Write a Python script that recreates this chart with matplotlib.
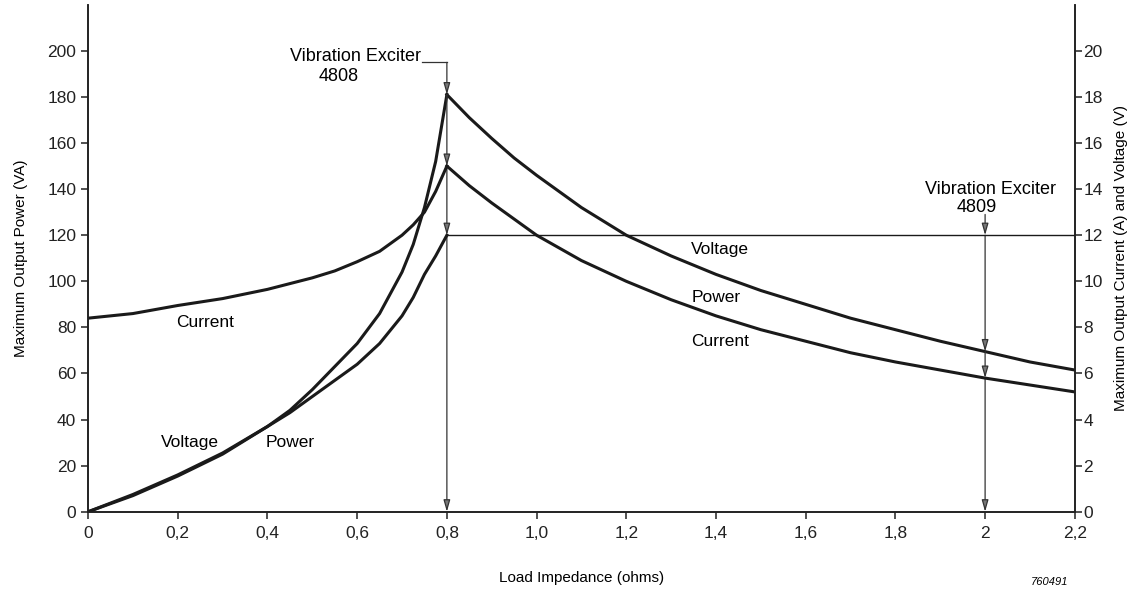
import numpy as np
import matplotlib.pyplot as plt

plt.rcParams['font.family'] = ['Liberation Sans', 'DejaVu Sans']

# load impedance (ohms)
x_left = [0, 0.1, 0.2, 0.3, 0.4, 0.45, 0.5, 0.55, 0.6, 0.65, 0.7, 0.725, 0.75, 0.775, 0.8]
x_right = [0.8, 0.85, 0.9, 0.95, 1.0, 1.1, 1.2, 1.3, 1.4, 1.5, 1.6, 1.7, 1.8, 1.9, 2.0, 2.1, 2.2]

# power (VA), current (A), voltage (V)
power_left = [0, 7, 15.5, 25, 37, 44, 53, 63, 73, 86, 104, 116, 132, 152, 181]
voltage_left = [0, 0.75, 1.6, 2.55, 3.7, 4.3, 5.0, 5.7, 6.4, 7.3, 8.5, 9.3, 10.3, 11.1, 12.0]
current_left = [8.4, 8.6, 8.95, 9.25, 9.65, 9.9, 10.15, 10.45, 10.85, 11.3, 12.0, 12.45, 13.0, 13.9, 15.0]

power_right = [181, 171, 162, 153.5, 146, 132, 120, 111, 103, 96, 90, 84, 79, 74, 69.5, 65, 61.5]
current_right = [15.0, 14.15, 13.4, 12.7, 12.0, 10.9, 10.0, 9.2, 8.5, 7.9, 7.4, 6.9, 6.5, 6.15, 5.8, 5.5, 5.2]
voltage_right = [12.0, 12.0]
voltage_right_x = [0.8, 2.2]

xticks = [0, 0.2, 0.4, 0.6, 0.8, 1.0, 1.2, 1.4, 1.6, 1.8, 2.0, 2.2]
xtick_labels = ['0', '0,2', '0,4', '0,6', '0,8', '1,0', '1,2', '1,4', '1,6', '1,8', '2', '2,2']

fig = plt.figure(figsize=(11.29, 5.93), dpi=100)
ax = fig.add_axes([0.078, 0.137, 0.874, 0.855])
ax2 = ax.twinx()

lw = 2.2
ax.plot(x_left, power_left, color='#1a1a1a', lw=lw)
ax.plot(x_right, power_right, color='#1a1a1a', lw=lw)
ax2.plot(x_left, voltage_left, color='#1a1a1a', lw=lw)
ax2.plot(x_left, current_left, color='#1a1a1a', lw=lw)
ax2.plot(x_right, current_right, color='#1a1a1a', lw=lw)
ax2.plot(voltage_right_x, voltage_right, color='#1a1a1a', lw=1.0)

ax.set_xlim(0, 2.2)
ax.set_ylim(0, 220)
ax2.set_ylim(0, 22)

ax.set_xticks(xticks)
ax.set_xticklabels(xtick_labels)
ax.set_yticks(np.arange(0, 201, 20))
ax2.set_yticks(np.arange(0, 21, 2))

for a in (ax, ax2):
    a.spines['top'].set_visible(False)
    for s in a.spines.values():
        s.set_linewidth(1.2)
        s.set_color('#222222')
    a.tick_params(direction='out', length=5, width=1.1, labelsize=12.5, colors='#222222')
ax.tick_params(axis='x', pad=5)
ax2.tick_params(axis='y', pad=1)

ax.set_xlabel('Load Impedance (ohms)', fontsize=11, labelpad=22)
ax.set_ylabel('Maximum Output Power (VA)', fontsize=11, labelpad=14)
ax2.set_ylabel('Maximum Output Current (A) and Voltage (V)', fontsize=11, labelpad=8)


def arrow(a, x, y0, y1):
    a.annotate('', xy=(x, y1), xytext=(x, y0),
               arrowprops=dict(arrowstyle='-|>,head_length=0.7,head_width=0.2',
                               lw=0.9, color='#333333', fc='#777777',
                               shrinkA=0, shrinkB=0))


# exciter 4808 marker at 0.8 ohm
ax.plot([0.745, 0.8], [195, 195], color='#333333', lw=0.9)
i8 = 0
arrow(ax, 0.8, 195, power_right[i8])
arrow(ax, 0.8, power_right[i8], current_right[i8] * 10)
arrow(ax, 0.8, current_right[i8] * 10, voltage_right[0] * 10)
arrow(ax, 0.8, voltage_right[0] * 10, 0)
ax.text(0.742, 197.5, 'Vibration Exciter', ha='right', va='center', fontsize=13)
ax.text(0.558, 189, '4808', ha='center', va='center', fontsize=13)

# exciter 4809 marker at 2 ohm
i2 = x_right.index(2.0)
arrow(ax, 2.0, 129, voltage_right[1] * 10)
arrow(ax, 2.0, voltage_right[1] * 10, power_right[i2])
arrow(ax, 2.0, power_right[i2], current_right[i2] * 10)
arrow(ax, 2.0, current_right[i2] * 10, 0)
ax.text(2.013, 140, 'Vibration Exciter', ha='center', va='center', fontsize=13)
ax.text(1.982, 132, '4809', ha='center', va='center', fontsize=13)

# curve labels
ax.text(0.26, 82, 'Current', ha='center', va='center', fontsize=12.5)
ax.text(0.227, 30, 'Voltage', ha='center', va='center', fontsize=12.5)
ax.text(0.451, 30, 'Power', ha='center', va='center', fontsize=12.5)
ax.text(1.409, 114, 'Voltage', ha='center', va='center', fontsize=12.5)
ax.text(1.40, 93, 'Power', ha='center', va='center', fontsize=12.5)
ax.text(1.409, 74, 'Current', ha='center', va='center', fontsize=12.5)

fig.text(0.93, 0.01, '760491', ha='center', va='bottom', fontsize=8, style='italic')

fig.savefig('out.png', dpi=100)
